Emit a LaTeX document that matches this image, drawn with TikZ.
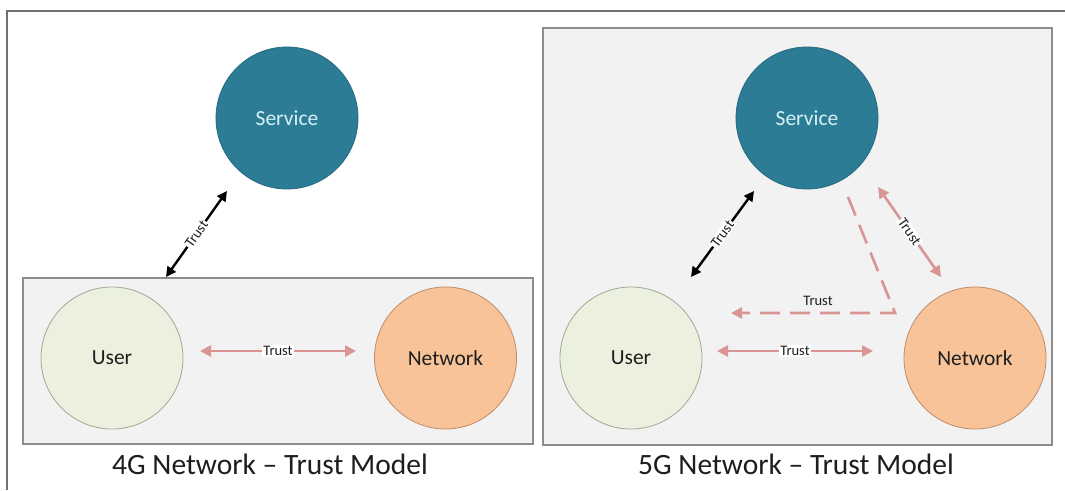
\documentclass[tikz,border=0pt]{standalone}
\usepackage{fontspec}
\setmainfont{Carlito}
\usetikzlibrary{arrows.meta}
\definecolor{svcfill}{RGB}{44,124,150}
\definecolor{svcborder}{RGB}{36,105,128}
\definecolor{svctext}{RGB}{214,240,246}
\definecolor{userfill}{RGB}{235,241,222}
\definecolor{userborder}{RGB}{160,168,150}
\definecolor{netfill}{RGB}{248,195,152}
\definecolor{netborder}{RGB}{190,140,105}
\definecolor{panelfill}{RGB}{242,242,242}
\definecolor{panelborder}{RGB}{140,140,140}
\definecolor{framegray}{RGB}{112,112,112}
\definecolor{trustpink}{RGB}{217,149,148}
\definecolor{textdark}{RGB}{30,30,30}
\tikzset{
  panel/.style={draw=panelborder, fill=panelfill, line width=1.5pt},
  circnode/.style={circle, minimum size=142pt, inner sep=0pt, line width=0.8pt,
    font=\fontsize{21.5}{24}\selectfont},
  svcnode/.style={circnode, fill=svcfill, draw=svcborder, text=svctext},
  usernode/.style={circnode, fill=userfill, draw=userborder, text=textdark},
  netnode/.style={circnode, fill=netfill, draw=netborder, text=textdark},
  pinkarrow/.style={draw=trustpink, line width=2.6pt,
    {Triangle[length=11pt,width=11pt]}-{Triangle[length=11pt,width=11pt]}},
  blackarrow/.style={draw=black, line width=2.4pt,
    {Triangle[length=10pt,width=10pt]}-{Triangle[length=10pt,width=10pt]}},
  dasharrow/.style={draw=trustpink, line width=2.6pt, dash pattern=on 20pt off 10pt,
    -{Triangle[length=11pt,width=11pt]}},
  trustlabel/.style={fill=white, inner sep=1pt, text=textdark,
    font=\fontsize{14.5}{16}\selectfont, sloped},
  plainlabel/.style={inner sep=1pt, text=textdark, font=\fontsize{14.5}{16}\selectfont},
  caption/.style={text=textdark, font=\fontsize{29.5}{32}\selectfont}
}
\begin{document}
\begin{tikzpicture}[x=1pt,y=-1pt]
\useasboundingbox (0,0) rectangle (1065,490);
\fill[white] (0,0) rectangle (1065,490);
\draw[framegray, line width=1.5pt] (7,490) -- (7,11) -- (1065,11);

% ---------- 4G panel ----------
\node[panel, minimum width=510pt, minimum height=166pt, inner sep=0pt] (box4) at (278,361) {};
\node[svcnode] (S4) at (287,118) {Service};
\node[usernode] (U4) at (112,358) {User};
\node[netnode] (N4) at (445.5,358) {Network};
\coordinate (b4a) at (166,277);
\coordinate (b4b) at (227,191);
\draw[blackarrow] (b4a) -- node[trustlabel] {Trust} (b4b);
\coordinate (p4a) at (200,351);
\coordinate (p4b) at (356,351);
\draw[pinkarrow] (p4a) -- node[trustlabel] {Trust} (p4b);
\node[caption] (cap4) at (270,464) {4G Network – Trust Model};

% ---------- 5G panel ----------
\node[panel, minimum width=509pt, minimum height=417pt, inner sep=0pt] (box5) at (797.5,236.5) {};
\node[svcnode] (S5) at (807,118) {Service};
\node[usernode] (U5) at (631,358) {User};
\node[netnode] (N5) at (975,358) {Network};
\coordinate (b5a) at (691,277);
\coordinate (b5b) at (754,191);
\draw[blackarrow] (b5a) -- node[trustlabel] {Trust} (b5b);
\coordinate (sn5a) at (878,187);
\coordinate (sn5b) at (941,277);
\draw[pinkarrow] (sn5a) -- node[trustlabel] {Trust} (sn5b);
\coordinate (d5a) at (848,197);
\coordinate (d5b) at (895,313);
\coordinate (d5c) at (731,313);
\draw[dasharrow] (d5a) -- (d5b) -- (d5c);
\node[plainlabel] (dlab) at (818,301) {Trust};
\coordinate (p5a) at (717,351);
\coordinate (p5b) at (873,351);
\draw[pinkarrow] (p5a) -- node[trustlabel] {Trust} (p5b);
\node[caption] (cap5) at (796,464) {5G Network – Trust Model};
\end{tikzpicture}
\end{document}
